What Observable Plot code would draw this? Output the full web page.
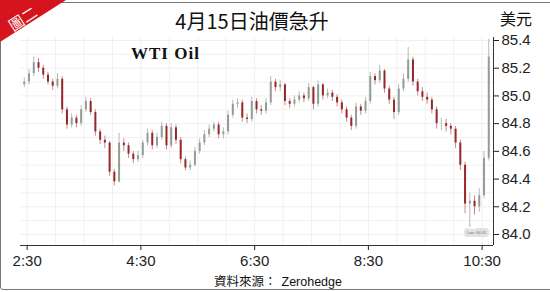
<!DOCTYPE html>
<html>
<head>
<meta charset="utf-8">
<script src="https://cdn.jsdelivr.net/npm/d3@7"></script>
<script src="https://cdn.jsdelivr.net/npm/@observablehq/plot@0.6"></script>
<style>
  body { margin: 0; background: #fff; }
  #wrap { position: relative; width: 550px; height: 292px; overflow: hidden; background: #fff; }
  #chart { position: absolute; left: 0; top: 0; }
  .txt { position: absolute; white-space: nowrap; }
  #frame { position: absolute; left: 0; top: 2px; width: 560px; height: 288px; box-sizing: border-box;
           border: 1.5px solid #777; border-radius: 3px; pointer-events: none; }
  #tag { position: absolute; left: 0; top: 0; width: 66px; height: 42px; background: #d6141d;
         clip-path: polygon(0 0, 100% 0, 0 100%); }
  #tagtext { left: 4px; top: 8px; width: 34px; height: 16px; line-height: 16px; text-align: center;
             color: #fff; font: 15px "Noto Sans CJK TC", sans-serif; transform: rotate(-33deg); }
  #title { left: 0; width: 504px; top: 11px; text-align: center; font: 20px/20px "Noto Sans CJK TC", sans-serif; color: #111; }
  #unit { left: 500px; top: 10px; font: 16px/16px "Noto Sans CJK TC", sans-serif; color: #111; }
  #legend { left: 131px; top: 45px; font: bold 17px/17px "Liberation Serif", "Times New Roman", serif; letter-spacing: 1px; color: #111; }
  #caption { left: 214px; top: 274px; font: 12.5px/13px "Noto Sans CJK TC", "Liberation Sans", sans-serif; color: #111; }
  #caption span { font-family: "Liberation Sans", Arial, sans-serif; margin-left: 5px; }
</style>
</head>
<body>
<div id="wrap">
  <div id="chart"></div>
  <div id="frame"></div>
  <div id="tag"></div>
  <div class="txt" id="tagtext">圖二</div>
  <div class="txt" id="title">4月15日油價急升</div>
  <div class="txt" id="unit">美元</div>
  <div class="txt" id="legend">WTI Oil</div>
  <div class="txt" id="caption">資料來源：<span>Zerohedge</span></div>
</div>
<script>
// 5-minute candles starting 02:27
const startTime = "02:27";
const stepMinutes = 5;
const firstOpen = 85.08;
const closes = [85.10,85.16,85.24,85.20,85.15,85.10,85.07,85.12,84.90,84.79,
84.84,84.80,84.90,84.96,84.88,84.74,84.68,84.66,84.45,84.38,
84.66,84.64,84.58,84.54,84.57,84.66,84.73,84.64,84.70,84.78,
84.64,84.77,84.68,84.54,84.48,84.50,84.60,84.66,84.72,84.76,
84.79,84.72,84.74,84.86,84.94,84.95,84.84,84.83,84.96,84.90,
84.89,84.95,85.10,85.06,85.08,84.96,84.94,84.97,85.00,84.98,
85.06,84.94,85.08,85.00,85.02,84.99,84.95,84.90,84.84,84.78,
84.92,84.89,84.96,85.14,85.11,85.18,85.05,84.97,84.88,85.05,
85.12,85.26,85.10,85.03,84.99,84.97,84.90,84.80,84.80,84.78,
84.76,84.66,84.50,84.22,84.24,84.20,84.28,84.55,85.28];
const highs = [85.13,85.19,85.28,85.27,85.22,85.17,85.12,85.16,85.14,84.92,
84.87,84.86,84.93,84.99,84.98,84.90,84.76,84.71,84.67,84.47,
84.73,84.69,84.66,84.60,84.60,84.68,84.76,84.75,84.73,84.81,
84.80,84.80,84.79,84.70,84.56,84.53,84.63,84.69,84.75,84.79,
84.81,84.81,84.77,84.89,84.97,84.98,84.97,84.87,84.99,84.98,
84.93,84.98,85.14,85.12,85.11,85.09,84.98,85.00,85.03,85.02,
85.09,85.07,85.11,85.09,85.05,85.04,85.01,84.97,84.92,84.86,
84.95,84.94,84.99,85.17,85.16,85.22,85.19,85.07,84.99,85.08,
85.16,85.35,85.28,85.12,85.06,85.02,84.99,84.92,84.84,84.83,
84.80,84.78,84.68,84.52,84.30,84.28,84.33,84.60,85.41];
const lows = [85.06,85.08,85.14,85.17,85.12,85.08,85.04,85.05,84.87,84.76,
84.77,84.77,84.78,84.88,84.86,84.71,84.65,84.62,84.42,84.35,
84.37,84.60,84.55,84.51,84.52,84.55,84.64,84.61,84.62,84.68,
84.61,84.62,84.65,84.51,84.46,84.46,84.49,84.58,84.64,84.70,
84.74,84.69,84.69,84.72,84.84,84.91,84.81,84.80,84.81,84.87,
84.86,84.87,84.93,85.03,85.03,84.93,84.91,84.92,84.95,84.95,
84.96,84.90,84.92,84.97,84.98,84.96,84.92,84.87,84.81,84.75,
84.76,84.86,84.87,84.94,85.08,85.09,85.02,84.94,84.83,84.86,
85.03,85.10,85.07,85.00,84.96,84.94,84.87,84.76,84.75,84.74,
84.72,84.62,84.46,84.15,84.05,84.14,84.16,84.26,84.53];
const xTickLabels = ["2:30","4:30","6:30","8:30","10:30"];
const yTickValues = [84.0,84.2,84.4,84.6,84.8,85.0,85.2,85.4];
const yGridValues = [84.0,84.1,84.2,84.3,84.4,84.5,84.6,84.7,84.8,84.9,85.0,85.1,85.2,85.3,85.4];
const xGridLabels = ["2:30","3:00","3:30","4:00","4:30","5:00","5:30","6:00","6:30","7:00","7:30","8:00","8:30","9:00","9:30","10:00","10:30"];
const xDomainLabels = ["2:23","10:42"];
const yDomain = [83.9206, 85.4217];
const lowLabel = {time: "10:24", value: 84.011, text: "Low: 84.05"};

const upColor = "#919d95";
const upWick = "#b3bbb5";
const downColor = "#962628";
const downWick = "#c98a8a";

const toDate = s => { const [h, m] = s.split(":").map(Number); return new Date(Date.UTC(2024, 3, 15, h, m)); };
const t0 = toDate(startTime);
const candles = closes.map((c, i) => ({
  time: new Date(+t0 + i * stepMinutes * 60000),
  open: i ? closes[i - 1] : firstOpen,
  close: c, high: highs[i], low: lows[i]
}));
const up = candles.filter(d => d.close >= d.open);
const down = candles.filter(d => d.close < d.open);
const xDomain = xDomainLabels.map(toDate);
const fmt = d => `${d.getUTCHours()}:${String(d.getUTCMinutes()).padStart(2, "0")}`;

const chart = Plot.plot({
  width: 550, height: 292,
  marginLeft: 20, marginRight: 57, marginTop: 37, marginBottom: 47,
  style: {fontFamily: "'Liberation Sans', Arial, sans-serif", fontSize: "15px", color: "#222", background: "transparent"},
  x: {type: "utc", domain: xDomain, ticks: xTickLabels.map(toDate), tickFormat: fmt, tickSize: 5, tickPadding: 5, label: null},
  y: {domain: yDomain, ticks: yTickValues, tickFormat: d => d.toFixed(1), axis: "right", tickSize: 5, tickPadding: 3, label: null},
  marks: [
    Plot.ruleY(yGridValues, {stroke: "#f0f0f0"}),
    Plot.ruleX(xGridLabels.map(toDate), {stroke: "#f0f0f0"}),
    Plot.ruleX(up, {x: "time", y1: "low", y2: "high", stroke: upWick, strokeWidth: 1}),
    Plot.ruleX(down, {x: "time", y1: "low", y2: "high", stroke: downWick, strokeWidth: 1}),
    Plot.ruleX(up, {x: "time", y1: "open", y2: "close", stroke: upColor, strokeWidth: 2}),
    Plot.ruleX(down, {x: "time", y1: "open", y2: "close", stroke: downColor, strokeWidth: 2}),
    Plot.ruleY([yDomain[0]], {stroke: "#333", strokeWidth: 1}),
    Plot.ruleX([xDomain[1]], {stroke: "#333", strokeWidth: 1}),
    Plot.text([lowLabel], {x: d => toDate(d.time), y: "value", text: "text", fontSize: 4, fill: "#777",
      stroke: "#e2e2e2", strokeWidth: 6, strokeLinejoin: "round"})
  ]
});
document.getElementById("chart").appendChild(chart);
</script>
</body>
</html>
